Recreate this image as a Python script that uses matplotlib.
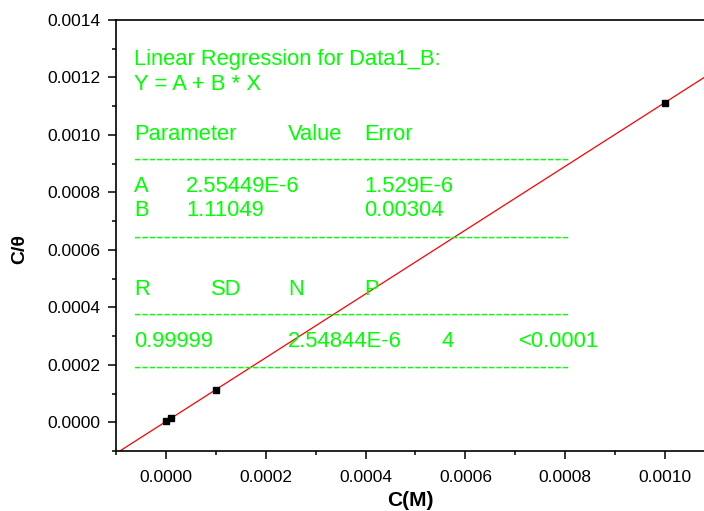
import matplotlib
matplotlib.use('Agg')
from matplotlib import pyplot as plt
from matplotlib.ticker import MultipleLocator

plt.rcParams['font.family'] = ['Liberation Sans', 'DejaVu Sans']

# measured data
conc = [1e-6, 1e-5, 1e-4, 1e-3]
c_theta = [3.5e-6, 1.4e-5, 1.13e-4, 1.1125e-3]

# fit results
fit_a = 2.55449e-6
fit_b = 1.11049
fit_x = [-0.0001, 0.0011]

W, H = 704, 511
fig = plt.figure(figsize=(W / 100, H / 100), dpi=100)
ax = fig.add_axes([116 / W, 1 - 451 / H, 1 - 116 / W, (451 - 20) / H])

ax.plot(fit_x, [fit_a + fit_b * x for x in fit_x], color='red', lw=0.9, zorder=2)
ax.plot(conc, c_theta, ls='none', marker='s', ms=4.5, color='black', zorder=3)

ax.set_xlim(-0.0001, (704 - 165) / 500000)
ax.set_ylim(-0.0001, 0.0014)
ax.xaxis.set_major_locator(MultipleLocator(0.0002))
ax.xaxis.set_minor_locator(MultipleLocator(0.0001))
ax.yaxis.set_major_locator(MultipleLocator(0.0002))
ax.yaxis.set_minor_locator(MultipleLocator(0.0001))
ax.xaxis.set_major_formatter(lambda v, p: '%.4f' % v)
ax.yaxis.set_major_formatter(lambda v, p: '%.4f' % v)

ax.spines['right'].set_visible(False)
for s in ['left', 'top', 'bottom']:
    ax.spines[s].set_linewidth(1.2)
ax.tick_params(which='major', direction='out', length=6, width=1.1, labelsize=12.5)
ax.tick_params(axis='x', which='major', pad=8)
ax.tick_params(axis='y', which='major', pad=5)
ax.tick_params(which='minor', direction='out', length=3, width=1.1)

# axis titles
ax.set_xlabel('C(M)', fontsize=15, fontweight='bold')
ax.set_ylabel('C/θ', fontsize=14, fontweight='bold')
ax.xaxis.set_label_coords((410 - 116) / 588, (451 - 500) / 431)
ax.xaxis.label.set_va('center')
ax.yaxis.set_label_coords((20 - 116) / 588, (451 - 249) / 431)
ax.yaxis.label.set_va('center')
ax.yaxis.label.set_ha('center')

# regression report (pixel positions of the reference)
green = '#00ff00'
fs = 15.8
report = [
    (134, 60, 'Linear Regression for Data1_B:'),
    (134, 84, 'Y = A + B * X'),
    (134, 134, 'Parameter'), (288, 134, 'Value'), (364, 134, 'Error'),
    (134, 186, 'A'), (186, 186, '2.55449E-6'), (364, 186, '1.529E-6'),
    (134, 210, 'B'), (186, 210, '1.11049'), (364, 210, '0.00304'),
    (134, 289, 'R'), (211, 289, 'SD'), (288, 289, 'N'), (364, 289, 'P'),
    (134, 341, '0.99999'), (288, 341, '2.54844E-6'), (441, 341, '4'), (519, 341, '<0.0001'),
]
for x, y, s in report:
    fig.text(x / W, 1 - y / H, s, color=green, fontsize=fs, ha='left', va='center')

for y in [160, 238, 315, 368]:
    fig.text(134 / W, 1 - y / H, '-' * 59, color=green, fontsize=fs, ha='left', va='center')

fig.savefig('out.png', dpi=100)
